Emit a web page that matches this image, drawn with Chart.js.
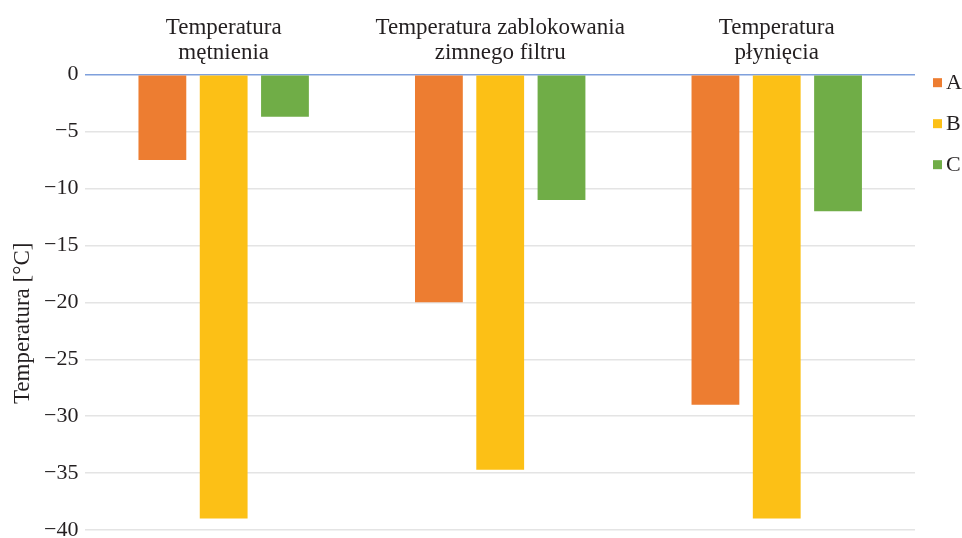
<!DOCTYPE html>
<html>
<head>
<meta charset="utf-8">
<script src="https://cdn.jsdelivr.net/npm/chart.js@4/dist/chart.umd.min.js"></script>
<style>
  html, body { margin: 0; padding: 0; background: #fff; }
  #wrap { width: 962px; height: 538px; }
</style>
</head>
<body>
<div id="wrap"><canvas id="tempChart" width="962" height="538"></canvas></div>
<script>
const categories = [
    ["Temperatura", "mętnienia"],
    ["Temperatura zablokowania", "zimnego filtru"],
    ["Temperatura", "płynięcia"],
];
const seriesA = [-7.5, -20, -29];
const seriesB = [-39, -34.7, -39];
const seriesC = [-3.7, -11, -12];
const yTitle = "Temperatura [°C]";

const serif = "'Liberation Serif', 'DejaVu Serif', serif";
const ink = "#231f20";
Chart.defaults.font.family = serif;
Chart.defaults.color = ink;

const bar = (label, data, color) => ({
    label,
    data,
    backgroundColor: color,
    borderWidth: 0,
    categoryPercentage: 0.665,
    barPercentage: 0.78,
});

// square-marker legend right of the plot, plus the rotated y title
// (sits a bit below the axis middle, so it is drawn by hand)
const sideText = {
    id: "sideText",
    afterDraw(chart) {
        const { ctx, chartArea } = chart;
        ctx.save();
        ctx.font = "22px " + serif;
        ctx.textBaseline = "middle";
        chart.data.datasets.forEach((ds, i) => {
            const x = chartArea.right + 18;
            const y = chartArea.top + 8 + i * 41;
            ctx.fillStyle = ds.backgroundColor;
            ctx.fillRect(x, y - 4.5, 9, 9);
            ctx.fillStyle = ink;
            ctx.fillText(ds.label, x + 13, y + 1);
        });

        ctx.font = "23px " + serif;
        ctx.fillStyle = ink;
        ctx.textAlign = "center";
        ctx.translate(23, (chartArea.top + chartArea.bottom) / 2 + 21);
        ctx.rotate(-Math.PI / 2);
        ctx.fillText(yTitle, 0, 0);
        ctx.restore();
    },
};

new Chart(document.getElementById("tempChart"), {
    type: "bar",
    data: {
        labels: categories,
        datasets: [
            bar("A", seriesA, "#ed7d31"),
            bar("B", seriesB, "#fcc016"),
            bar("C", seriesC, "#70ad47"),
        ],
    },
    plugins: [sideText],
    options: {
        responsive: false,
        animation: false,
        layout: { autoPadding: false, padding: { top: 15, bottom: 8, right: 47, left: 37 } },
        plugins: {
            tooltip: { enabled: false },
            legend: { display: false },
        },
        scales: {
            x: {
                position: "top",
                grid: { display: false },
                border: { display: false },
                ticks: { font: { size: 23, lineHeight: 1.08 }, padding: 1, maxRotation: 0 },
            },
            y: {
                min: -40,
                max: 0,
                border: { display: false },
                grid: {
                    drawTicks: false,
                    lineWidth: 1.5,
                    color: (ctx) => (ctx.tick && ctx.tick.value === 0 ? "#7fa0dc" : "#e4e4e4"),
                },
                ticks: {
                    stepSize: 5,
                    padding: 7,
                    font: { size: 22 },
                    callback: (v) => (v < 0 ? "\u2212" + Math.abs(v) : String(v)),
                },
                afterFit(scale) {
                    // let the -40 label hang below the plot instead of shrinking it
                    scale.paddingBottom = 0;
                },
            },
        },
    },
});
</script>
</body>
</html>
